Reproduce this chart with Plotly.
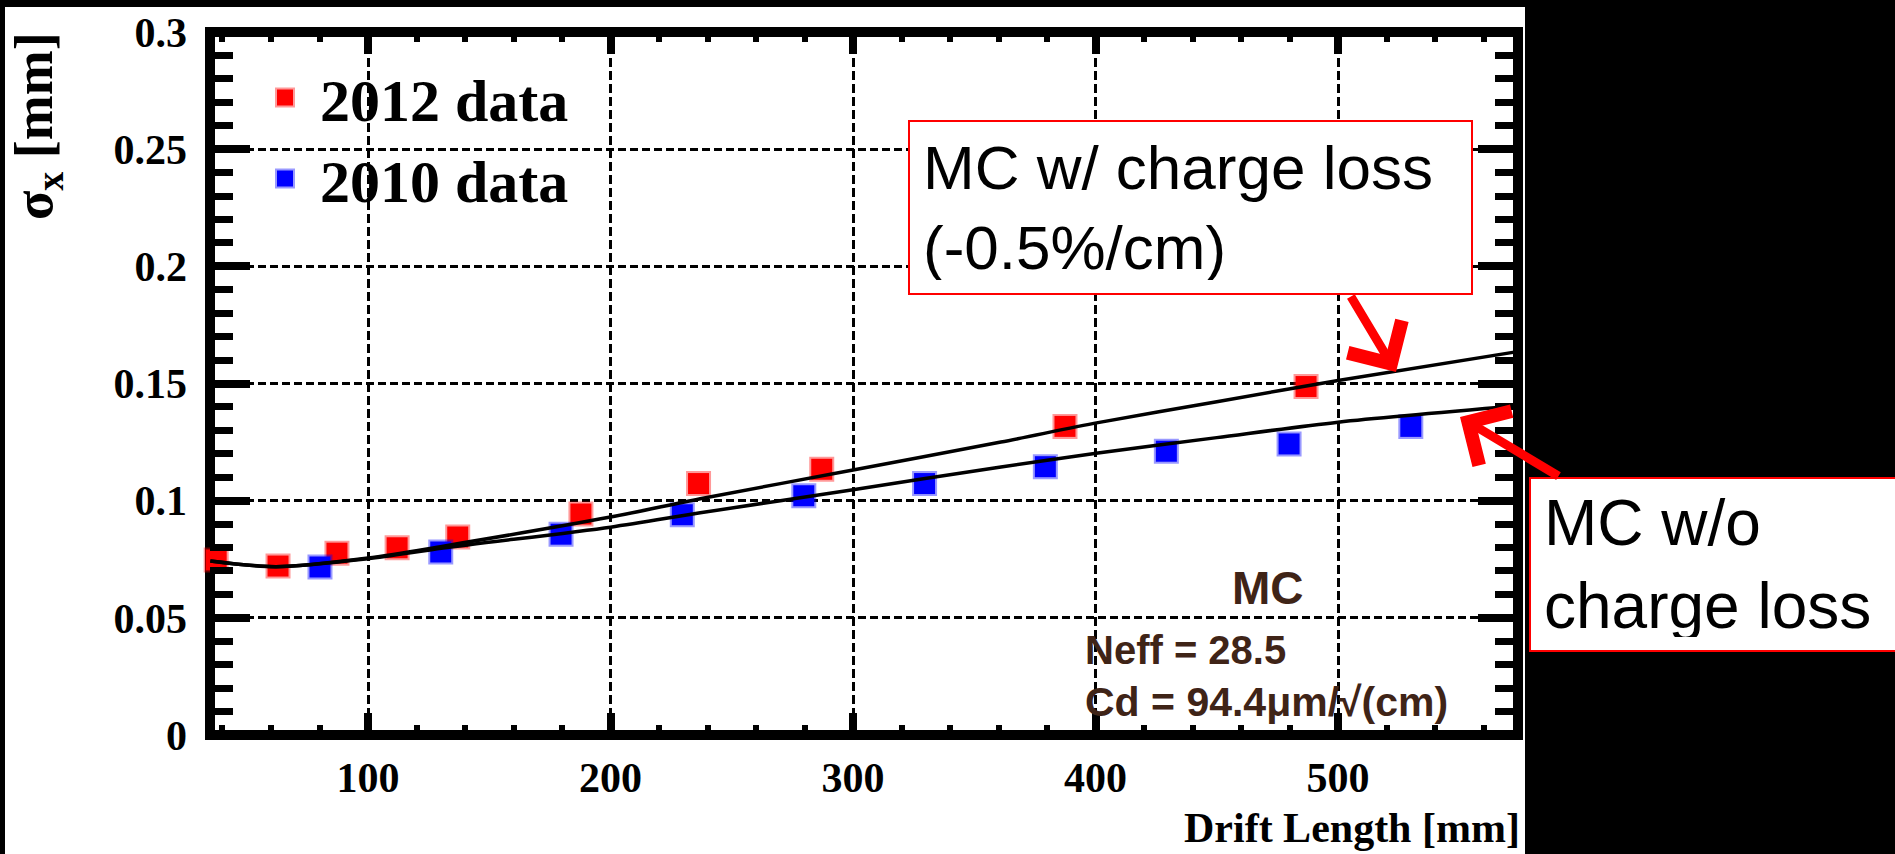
import plotly.graph_objects as go

# ---------------- data ----------------
x_2012 = [37.4, 62.9, 87.2, 112.0, 137.0, 187.8, 236.3, 287.1, 387.4, 486.8]
y_2012 = [0.0747, 0.0721, 0.0776, 0.0799, 0.0845, 0.0943, 0.1073, 0.1134, 0.1317, 0.1487]

x_2010 = [80.2, 130.0, 179.6, 229.6, 279.7, 329.5, 379.3, 429.2, 479.8, 530.0]
y_2010 = [0.0717, 0.0781, 0.0857, 0.0940, 0.1021, 0.1073, 0.1145, 0.1211, 0.1242, 0.1317]

mc_x = [35, 62, 100, 131, 200, 237, 300, 361, 401, 450, 500, 574]
mc_loss = [0.0743, 0.0718, 0.0755, 0.0806, 0.0930, 0.1008, 0.1131, 0.1250, 0.1333, 0.1422, 0.1513, 0.1636]
mc_noloss = [0.0743, 0.0718, 0.0752, 0.0798, 0.0887, 0.0948, 0.1047, 0.1144, 0.1203, 0.1269, 0.1335, 0.1405]

y_ticks = [0, 0.05, 0.1, 0.15, 0.2, 0.25, 0.3]
y_ticktext = ["0", "0.05", "0.1", "0.15", "0.2", "0.25", "0.3"]
x_ticks = [100, 200, 300, 400, 500]
x_ticktext = ["100", "200", "300", "400", "500"]

# ---------------- layout geometry ----------------
W_FIG, H_FIG = 1895, 854
L, R, T, B = 210, 1518, 32, 735
PW, PH = R - L, B - T


def px2x(px):
    return (px - L) / PW


def py2y(py):
    return (B - py) / PH


SERIF = "Liberation Serif"
SANS = "Liberation Sans"

fig = go.Figure()

fig.add_trace(go.Scatter(
    x=x_2012, y=y_2012, mode="markers", name=" 2012 data", cliponaxis=False,
    marker=dict(symbol="square", size=21, color="#ff0000",
                line=dict(color="rgba(255,0,0,0.4)", width=4)),
))
fig.add_trace(go.Scatter(
    x=x_2010, y=y_2010, mode="markers", name=" 2010 data", cliponaxis=False,
    marker=dict(symbol="square", size=21, color="#0000ff",
                line=dict(color="rgba(0,0,255,0.4)", width=4)),
))
fig.add_trace(go.Scatter(
    x=mc_x, y=mc_loss, mode="lines", showlegend=False,
    line=dict(color="black", width=3.5, shape="spline", smoothing=0.8),
))
fig.add_trace(go.Scatter(
    x=mc_x, y=mc_noloss, mode="lines", showlegend=False,
    line=dict(color="black", width=3.5, shape="spline", smoothing=0.8),
))

tickfont = dict(family=SERIF, size=42, color="black", weight="bold")

fig.update_xaxes(
    range=[34.85, 574.2], tickvals=x_ticks, ticktext=x_ticktext,
    ticks="inside", ticklen=22, tickwidth=8, tickcolor="black",
    mirror="allticks", showline=False, zeroline=False,
    showgrid=True, gridcolor="black", gridwidth=3, griddash="9px,4px",
    minor=dict(ticks="inside", dtick=20, tick0=0, ticklen=10, tickwidth=6,
               tickcolor="black", showgrid=False),
    tickfont=tickfont, ticklabelstandoff=14,
)
fig.update_yaxes(
    range=[0, 0.3], tickvals=y_ticks, ticktext=y_ticktext,
    ticks="inside", ticklen=40, tickwidth=8, tickcolor="black",
    mirror="allticks", showline=False, zeroline=False,
    showgrid=True, gridcolor="black", gridwidth=3, griddash="8px,4px",
    minor=dict(ticks="inside", dtick=0.01, tick0=0, ticklen=23, tickwidth=7,
               tickcolor="black", showgrid=False),
    tickfont=tickfont, ticklabelstandoff=22,
)

shapes = [
    # white panel behind the chart
    dict(type="rect", xref="paper", yref="paper",
         x0=px2x(5), x1=px2x(1525), y0=py2y(900), y1=py2y(7),
         fillcolor="white", line=dict(width=0), layer="below"),
    # thick frame
    dict(type="rect", xref="paper", yref="paper", x0=0, x1=1, y0=0, y1=1,
         line=dict(color="black", width=10), layer="below"),
]

annotations = [
    # y-axis title
    dict(text="σ<sub>x</sub> [mm]", xref="paper", yref="paper",
         x=px2x(37), y=py2y(30), xanchor="center", yanchor="top",
         textangle=-90, showarrow=False,
         font=dict(family=SERIF, size=54, color="black", weight="bold")),
    # x-axis title
    dict(text="Drift Length [mm]", xref="paper", yref="paper",
         x=px2x(1522), y=py2y(828), xanchor="right", yanchor="middle",
         showarrow=False,
         font=dict(family=SERIF, size=42, color="black", weight="bold")),
    # MC label texts
    dict(text="MC", xref="paper", yref="paper",
         x=px2x(1268), y=py2y(588), xanchor="center", yanchor="middle",
         showarrow=False,
         font=dict(family=SANS, size=46, color="#3f2417", weight="bold")),
    dict(text="Neff = 28.5", xref="paper", yref="paper",
         x=px2x(1083), y=py2y(650), xanchor="left", yanchor="middle",
         showarrow=False,
         font=dict(family=SANS, size=40, color="#3f2417", weight="bold")),
    dict(text="Cd = 94.4μm/√(cm)", xref="paper", yref="paper",
         x=px2x(1083), y=py2y(702), xanchor="left", yanchor="middle",
         showarrow=False,
         font=dict(family=SANS, size=41, color="#3f2417", weight="bold")),
    # callout boxes
    dict(text="MC w/ charge loss<br>(-0.5%/cm)", xref="paper", yref="paper",
         x=px2x(908), y=py2y(120), xanchor="left", yanchor="top",
         width=535, height=145, borderpad=13, borderwidth=2,
         bordercolor="#ff0000", bgcolor="white", align="left",
         showarrow=False,
         font=dict(family=SANS, size=62, color="black")),
    dict(text="MC w/o<br>charge loss", xref="paper", yref="paper",
         x=px2x(1529), y=py2y(477), xanchor="left", yanchor="top",
         width=420, height=145, borderpad=13, borderwidth=2,
         bordercolor="#ff0000", bgcolor="white", align="left",
         showarrow=False,
         font=dict(family=SANS, size=64, color="black")),
    # arrows
    dict(text="", xref="paper", yref="paper",
         x=px2x(1396), y=py2y(372), ax=1350 - 1396, ay=295 - 372,
         axref="pixel", ayref="pixel", showarrow=True,
         arrowhead=4, arrowsize=1.35, arrowwidth=9, arrowcolor="#ff0000",
         standoff=0, startstandoff=0),
    dict(text="", xref="paper", yref="paper",
         x=px2x(1460), y=py2y(417), ax=1560 - 1460, ay=477 - 417,
         axref="pixel", ayref="pixel", showarrow=True,
         arrowhead=4, arrowsize=1.35, arrowwidth=9, arrowcolor="#ff0000",
         standoff=0, startstandoff=0),
]

fig.update_layout(
    width=W_FIG, height=H_FIG,
    margin=dict(l=L, r=W_FIG - R, t=T, b=H_FIG - B, autoexpand=False),
    paper_bgcolor="black", plot_bgcolor="rgba(0,0,0,0)",
    shapes=shapes, annotations=annotations,
    showlegend=True,
    legend=dict(x=px2x(265), y=py2y(52), xanchor="left", yanchor="top",
                bgcolor="rgba(0,0,0,0)", borderwidth=0,
                font=dict(family=SERIF, size=60, color="black", weight="bold"),
                tracegroupgap=0),
)

fig.write_html("out.html")
